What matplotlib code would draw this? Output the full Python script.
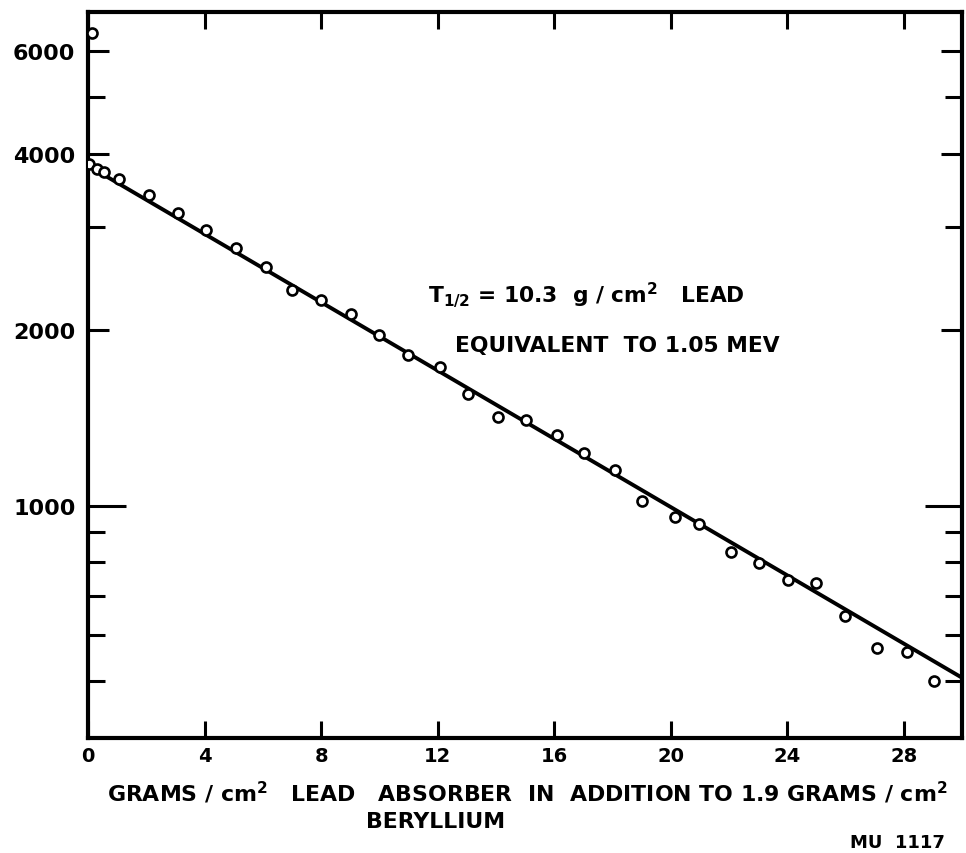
"""
Lead absorption curve for beryllium-filtered radiation, counts vs absorber thickness
"""

import numpy as np
import matplotlib
matplotlib.use("Agg")
import matplotlib.pyplot as plt
from matplotlib.ticker import FixedLocator, NullFormatter

# ── data ───────────────────────────────────────
lead_thickness = [0.05, 0.14, 0.3, 0.55, 1.07, 2.09, 3.08, 4.05, 5.07, 6.1,
                  7.0, 7.99, 9.02, 9.98, 11.0, 12.07, 13.03, 14.09, 15.02,
                  16.1, 17.04, 18.1, 19.0, 20.16, 20.98, 22.08, 23.04, 24.03,
                  24.99, 26.0, 27.08, 28.1, 29.04]
counts = [3840, 6450, 3770, 3730, 3630, 3400, 3170, 2960, 2760, 2560,
          2340, 2250, 2130, 1960, 1810, 1730, 1550, 1420, 1400,
          1320, 1230, 1150, 1020, 957, 931, 834, 797, 745,
          736, 646, 571, 562, 501]

half_thickness = 10.3      # g/cm^2 lead
fit_intercept = 3820       # counts at zero absorber
fit_range = [0, 30]

x_ticks = [0, 4, 8, 12, 16, 20, 24, 28]
y_major = [1000, 2000, 4000, 6000]
y_minor = [500, 600, 700, 800, 900, 3000, 5000]

plt.rcParams["font.family"] = ["DejaVu Sans"]
plt.rcParams["font.weight"] = "bold"
plt.rcParams["mathtext.default"] = "bf"

W, H = 966, 854
fig = plt.figure(figsize=(W / 100, H / 100), dpi=100)
ax = fig.add_axes([88 / W, 1 - 739 / H, (962 - 88) / W, (739 - 13) / H])

# fitted exponential: straight on the log axis
fx = np.array(fit_range, dtype=float)
fy = fit_intercept * 2.0 ** (-fx / half_thickness)
ax.plot(fx, fy, color="black", linewidth=2.8, solid_capstyle="butt", zorder=2)

ax.plot(lead_thickness, counts, linestyle="none", marker="o", markersize=7.2,
        markerfacecolor="white", markeredgecolor="black", markeredgewidth=1.9,
        zorder=3)

ax.set_yscale("log")
ax.set_xlim(0, 30)
ax.set_ylim(400, 7000)

for side in ax.spines.values():
    side.set_linewidth(3)

ax.xaxis.set_major_locator(FixedLocator(x_ticks))
ax.yaxis.set_major_locator(FixedLocator(y_major))
ax.yaxis.set_minor_locator(FixedLocator(y_minor))
ax.yaxis.set_minor_formatter(NullFormatter())
ax.set_yticklabels([str(v) for v in y_major])

ax.tick_params(axis="both", which="both", direction="in", top=True, right=True,
               width=2.2, color="black")
ax.tick_params(axis="x", which="major", length=12.5, labelsize=14, pad=6)
ax.tick_params(axis="y", which="major", length=15, labelsize=16, pad=9)
ax.tick_params(axis="y", which="minor", length=12)

# the 1000 tick is drawn longer on both sides
for t in ax.yaxis.get_major_ticks():
    if t.get_loc() == 1000:
        t.tick1line.set_markersize(27)
        t.tick2line.set_markersize(27)

for lbl in ax.get_xticklabels() + ax.get_yticklabels():
    lbl.set_fontweight("bold")


def fig_xy(px, py):
    return px / W, 1 - py / H


# half-thickness annotation
fig.text(*fig_xy(428, 295), r"T$_{1/2}$ = 10.3  g / cm$^2$   LEAD",
         fontsize=15.7, fontweight="bold", ha="left", va="center")
fig.text(*fig_xy(455, 346), "EQUIVALENT  TO 1.05 MEV",
         fontsize=15.7, fontweight="bold", ha="left", va="center")

# axis caption
fig.text(*fig_xy(527, 793),
         r"GRAMS / cm$^2$   LEAD   ABSORBER  IN  ADDITION TO 1.9 GRAMS / cm$^2$",
         fontsize=15.8, fontweight="bold", ha="center", va="center")
fig.text(*fig_xy(436, 822), "BERYLLIUM",
         fontsize=15.8, fontweight="bold", ha="center", va="center")
fig.text(*fig_xy(945, 843), "MU  1117",
         fontsize=13, fontweight="bold", ha="right", va="center")

fig.savefig("out.png", dpi=100)
